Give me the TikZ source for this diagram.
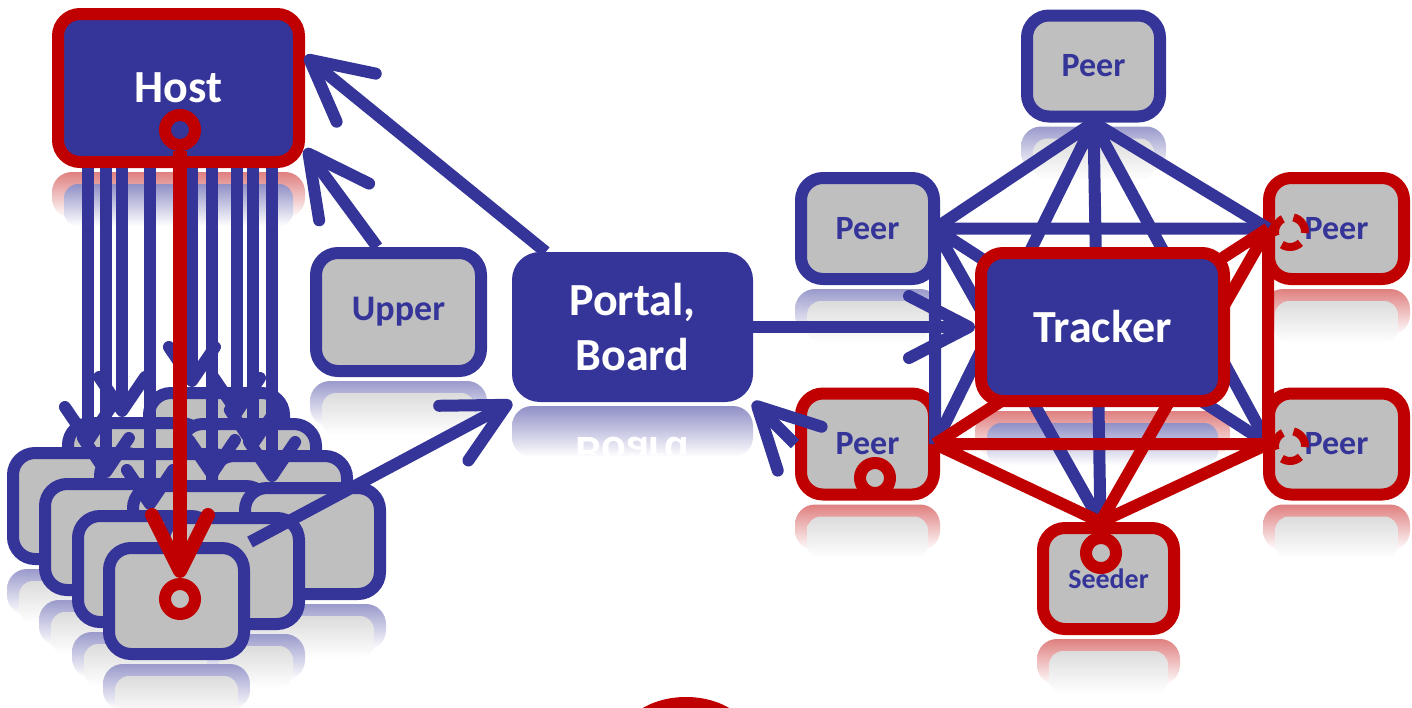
\documentclass[tikz,border=0pt]{standalone}
\usepackage{fontspec}
\setmainfont{Carlito}
\usetikzlibrary{arrows.meta, calc, shapes}
\definecolor{hue}{HTML}{353599}
\definecolor{alarm}{HTML}{C00000}
\definecolor{slab}{HTML}{BFBFBF}
\pgfdeclarelayer{glass}
\pgfsetlayers{glass,main}
\tikzset{
    box/.style={rectangle, rounded corners=22pt, line width=12pt, draw=hue, fill=slab,
      text=hue, inner sep=0pt, minimum width=133pt, minimum height=101pt,
      font=\bfseries\fontsize{34}{38}\selectfont},
    hot/.style={draw=alarm},
    hub/.style={box, fill=hue, text=white, align=center,
      font=\bfseries\fontsize{46}{55}\selectfont},
    unit/.style={box, minimum width=135pt, minimum height=106pt},
    holering/.style={circle, draw=alarm, line width=12pt, minimum size=30pt, inner sep=0pt},
    spinner/.style={circle, draw=alarm, line width=8pt, minimum size=30pt, inner sep=0pt,
      dash pattern=on 20pt off 11pt},
    wire/.style={line width=12pt, draw=hue},
    redwire/.style={line width=12pt, draw=alarm},
    bigarrow/.style={wire, -{Straight Barb[length=60pt, width=62pt, round]}},
    fanarrow/.style={wire, -{Straight Barb[length=34pt, width=46pt, round]}},
    redarrow/.style={line width=14pt, draw=alarm, -{Straight Barb[length=56pt, width=56pt, round]}},
}
% faded mirror image under a box: node, rim colour, face colour
\newcommand\glint[3]{%
  \shade[top color=#2!50!white, bottom color=white, rounded corners=20pt]
    ([yshift=-4pt]#1.south west) rectangle ([yshift=-50pt]#1.south east);
  \shade[top color=#3!55!white, bottom color=white, rounded corners=14pt]
    ([xshift=12pt, yshift=-16pt]#1.south west) rectangle ([xshift=-12pt, yshift=-58pt]#1.south east);
}

\begin{document}
\begin{tikzpicture}[x=1pt, y=-1pt]
\useasboundingbox (0,0) rectangle (1412,707);

% host, upper and portal
\node[hub, hot, minimum width=241pt, minimum height=148pt] (host) at (178.5,88) {Host};
\node[holering] (hostring) at (180,130) {};
\node[box, minimum width=165pt, minimum height=118pt,
  font=\bfseries\fontsize{36}{40}\selectfont] (upper) at (398.5,312) {Upper};
\node[hub, minimum width=229pt, minimum height=138pt] (portal) at (632.5,327) {Portal,\\Board};

% stacked copies, back to front
\node[unit] (c1) at (216.5,446) {};
\node[unit] (b1) at (135.5,476) {};
\node[unit] (c2) at (248.5,477) {};
\node[unit] (a1) at (80.5,506) {};
\node[unit] (b2) at (167.5,507) {};
\node[unit] (c3) at (279.5,509) {};
\node[unit] (a2) at (112.5,537) {};
\node[unit] (b3) at (200.5,539) {};
\node[unit] (c4) at (312.5,541) {};
\node[unit] (a3) at (145.5,569) {};
\node[unit] (b4) at (231.5,571) {};
\node[unit] (a4) at (176.5,601) {};
\node[holering] (frontring) at (180,599) {};

% host feeds every copy
\coordinate (h1) at ($(host.south west)!.142!(host.south east)$);
\coordinate (h2) at ($(host.south west)!.213!(host.south east)$);
\coordinate (h3) at ($(host.south west)!.277!(host.south east)$);
\coordinate (h4) at ($(host.south west)!.387!(host.south east)$);
\coordinate (h5) at ($(host.south west)!.553!(host.south east)$);
\coordinate (h6) at ($(host.south west)!.632!(host.south east)$);
\coordinate (h7) at ($(host.south west)!.731!(host.south east)$);
\coordinate (h8) at ($(host.south west)!.794!(host.south east)$);
\coordinate (h9) at ($(host.south west)!.870!(host.south east)$);
\draw[fanarrow] (h1) -- (h1 |- a1.north);
\draw[fanarrow] (h2) -- (h2 |- a2.north);
\draw[fanarrow] (h3) -- (h3 |- b1.north);
\draw[fanarrow] (h4) -- (h4 |- a3.north);
\draw[fanarrow] (h5) -- (h5 |- c1.north);
\draw[fanarrow] (h6) -- (h6 |- b3.north);
\draw[fanarrow] (h7) -- (h7 |- c2.north);
\draw[fanarrow] (h8) -- (h8 |- c3.north);
\draw[fanarrow] (h9) -- (h9 |- c4.north);
\draw[redarrow] (hostring) -- (frontring);

\draw[bigarrow] ($(upper.north west)!.38!(upper.north east)$) -- ($(host.north east)!.88!(host.south east)$);
\draw[bigarrow] ($(portal.north west)!.14!(portal.north east)$) -- ($(host.north east)!.3!(host.south east)$);
\draw[bigarrow] (a4.north east) -- (portal.south west);

% swarm
\node[box] (tp) at (1093.5,66) {Peer};
\node[box] (lt) at (867.5,228.5) {Peer};
\node[box, hot, minimum width=135pt] (rt) at (1336.5,228.5) {Peer};
\node[box, hot] (lb) at (867.5,444) {Peer};
\node[box, hot, minimum width=135pt] (rb) at (1336.5,444) {Peer};
\node[box, hot, minimum width=131pt, font=\bfseries\fontsize{28}{32}\selectfont] (sd) at (1108.5,578.5) {Seeder};

\coordinate (tp-hub) at (tp.south);
\coordinate (lt-hub) at ([xshift=-5pt]lt.east);
\coordinate (lb-hub) at ([xshift=-5pt]lb.east);
\coordinate (rt-hub) at ([xshift=5pt]rt.west);
\coordinate (rb-hub) at ([xshift=5pt]rb.west);
\coordinate (sd-hub) at ([xshift=-8pt]sd.north);

\draw[wire] (tp-hub) -- (lt-hub) (tp-hub) -- (rt-hub) (tp-hub) -- (lb-hub)
  (tp-hub) -- (rb-hub) (tp-hub) -- (sd-hub);
\draw[wire] (lt-hub) -- (rt-hub) (lt-hub) -- (lb-hub) (lt-hub) -- (rb-hub) (lt-hub) -- (sd-hub);
\draw[redwire] (lb-hub) -- (rt-hub) (lb-hub) -- (rb-hub) (lb-hub) -- (sd-hub)
  (rt-hub) -- (rb-hub) (sd-hub) -- (rb-hub) (sd-hub) -- (rt-hub);

\node[hub, hot, minimum width=243pt, minimum height=148pt] (tracker) at (1102.5,327) {Tracker};

\node[holering] (lbring) at (875,478) {};
\node[holering] (sdring) at (1101,553) {};
\node[spinner] (rtspin) at (1290,232) {};
\node[spinner] (rbspin) at (1290,446) {};

\draw[bigarrow] (lb.west) -- (portal.south east);
\draw[bigarrow] (portal.east) -- (tracker.west);

\fill[alarm] (686,742) ellipse [x radius=66pt, y radius=45pt];

% reflections
\begin{pgfonlayer}{glass}
\glint{host}{alarm}{hue}
\glint{upper}{hue}{slab}
\glint{a1}{hue}{slab}
\glint{a2}{hue}{slab}
\glint{c4}{hue}{slab}
\glint{b4}{hue}{slab}
\glint{a3}{hue}{slab}
\glint{a4}{hue}{slab}
\glint{tp}{hue}{slab}
\glint{lt}{hue}{slab}
\glint{rt}{alarm}{slab}
\glint{lb}{alarm}{slab}
\glint{rb}{alarm}{slab}
\glint{sd}{alarm}{slab}
\glint{tracker}{alarm}{hue}
\shade[top color=hue!55!white, bottom color=white, rounded corners=20pt]
  ([yshift=-4pt]portal.south west) rectangle ([yshift=-55pt]portal.south east);
\begin{scope}
  \clip ([yshift=-4pt]portal.south west) rectangle ([yshift=-52pt]portal.south east);
  \node[yscale=-1, text=white, font=\bfseries\fontsize{46}{55}\selectfont] (echo)
    at ([yshift=-51pt]portal.south) {Board};
\end{scope}
\end{pgfonlayer}
\end{tikzpicture}
\end{document}
